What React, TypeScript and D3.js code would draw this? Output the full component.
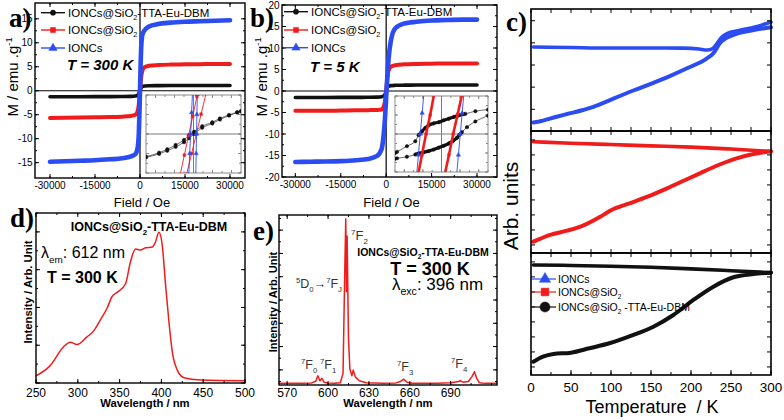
import React from "react";
import * as d3 from "d3";

const BLUE = "#2b4cf2";
const RED = "#f01c1c";
const BLACK = "#111111";
const SANS = "'Liberation Sans', Arial, sans-serif";
const SERIF = "'Liberation Serif', 'Times New Roman', serif";

// a), b): magnetization loops, field in Oe, M in emu/g
const fieldH = [-30000, -25000, -20000, -15000, -10000, -6000, -3000, -1500, -800, -400, -150, 0, 150, 400, 800, 1500, 3000, 6000, 10000, 15000, 20000, 25000, 30000];
const m300Bare = [-14.8, -14.7, -14.6, -14.5, -14.3, -14.1, -13.7, -13.2, -12.0, -9.0, -4.0, 0, 4.0, 9.0, 11.7, 12.6, 13.4, 13.9, 14.2, 14.4, 14.5, 14.6, 14.7];
const m300Silica = [-5.7, -5.65, -5.6, -5.55, -5.5, -5.4, -5.25, -5.0, -4.3, -2.8, -1.1, 0, 1.1, 2.8, 4.2, 4.9, 5.2, 5.35, 5.45, 5.5, 5.55, 5.6, 5.6];
const m300Hybrid = [-1.25, -1.25, -1.24, -1.23, -1.22, -1.2, -1.17, -1.1, -0.95, -0.6, -0.25, 0, 0.25, 0.6, 0.9, 1.0, 1.05, 1.07, 1.08, 1.08, 1.08, 1.08, 1.08];
const m5Bare = [-16.5, -16.45, -16.4, -16.3, -16.1, -15.8, -15.1, -13.5, -10.0, -6.5, -3.5, -1.5, 0.5, 3.5, 7.5, 11.5, 14.6, 15.7, 16.1, 16.4, 16.5, 16.6, 16.6];
const m5Silica = [-4.6, -4.6, -4.6, -4.55, -4.5, -4.45, -4.4, -4.3, -3.6, -2.4, -1.0, 0, 1.3, 3.0, 4.8, 5.6, 6.0, 6.2, 6.3, 6.35, 6.4, 6.4, 6.4];
const m5Hybrid = [-1.5, -1.5, -1.5, -1.49, -1.48, -1.46, -1.42, -1.35, -1.15, -0.8, -0.35, 0, 0.35, 0.8, 1.1, 1.25, 1.32, 1.36, 1.38, 1.39, 1.4, 1.4, 1.4];
const fieldTicks = [-30000, -15000, 0, 15000, 30000];

// insets: low-field detail [H, M]
type Pt = [number, number];
const insetAHybrid: Pt[][] = [
  [[-250, -0.58], [-181, -0.48], [-138, -0.39], [-94, -0.28], [-50, -0.15], [-24, -0.03], [3, 0.06], [46, 0.2], [99, 0.3], [139, 0.4], [187, 0.49], [230, 0.56], [250, 0.59]],
  [[-250, -0.6], [-181, -0.51], [-138, -0.43], [-94, -0.33], [-50, -0.21], [-24, -0.11], [3, 0.0], [46, 0.16], [99, 0.27], [139, 0.37], [187, 0.47], [230, 0.55], [250, 0.58]],
];
const insetASilica: Pt[][] = [
  [[-70, -1.04], [-48, -0.54], [-26, -0.04], [-4, 0.46], [18, 0.96], [24, 1.09]],
  [[-36, -1.03], [-10, -0.5], [15, 0.0], [40, 0.51], [66, 1.04]],
];
const insetABare: Pt[][] = [
  [[-25, -1.05], [-20, -0.5], [-15, 0], [-10, 0.55], [-5, 1.08]],
  [[12, -1.05], [14, -0.5], [16, 0], [18, 0.5], [20, 1.02]],
];
const insetBHybrid: Pt[][] = [
  [[-250, -0.5], [-239, -0.47], [-186, -0.32], [-141, -0.19], [-123, -0.03], [-105, 0.07], [-87, 0.16], [-69, 0.23], [-42, 0.28], [-15, 0.31], [12, 0.36], [39, 0.4], [66, 0.45], [93, 0.49], [128, 0.53], [182, 0.6], [250, 0.64]],
  [[-250, -0.65], [-239, -0.64], [-186, -0.6], [-141, -0.54], [-123, -0.51], [-96, -0.48], [-69, -0.45], [-42, -0.41], [-15, -0.36], [12, -0.31], [39, -0.25], [62, -0.18], [83, -0.1], [97, -0.02], [110, 0.05], [137, 0.18], [182, 0.33], [250, 0.48]],
];
const insetBSilica: Pt[][] = [
  [[-127, -1.1], [-105, -0.55], [-83, 0.0], [-61, 0.5], [-38, 1.1]],
  [[16, -1.1], [40, -0.55], [63, 0.0], [87, 0.52], [113, 1.1]],
];
const insetBBare: Pt[][] = [
  [[-134, -1.1], [-124, -0.55], [-114, 0.0], [-104, 0.55], [-94, 1.1]],
  [[81, -1.1], [91, -0.55], [101, 0.0], [111, 0.55], [121, 1.1]],
];

// c): FC / ZFC curves, arbitrary units (0-100 per strip)
const tFcBare = [3, 50, 100, 150, 190, 210, 220, 227, 232, 238, 245, 260, 280, 300];
const fcBare = [68.9, 68.4, 68.0, 68.0, 67.9, 67.2, 66.4, 67.5, 71.3, 76.6, 79.8, 82.3, 85.3, 89.3];
const tZfcBare = [3, 9, 32, 45, 65, 78, 86, 103, 128, 149, 170, 195, 220, 228, 236, 253, 274, 300];
const zfcBare = [7.0, 7.6, 11.7, 13.9, 17.2, 19.8, 21.8, 26.5, 33.2, 38.5, 44, 51.4, 59.6, 63.7, 71.9, 78.7, 82.2, 85];
const tFcSilica = [3, 50, 100, 150, 200, 250, 300];
const fcSilica = [91.2, 90.0, 88.9, 87.8, 86.8, 85.2, 83.3];
const tZfcSilica = [3, 24, 45, 65, 86, 100, 120, 145, 170, 190, 211, 232, 253, 278, 300];
const zfcSilica = [9.3, 14.8, 18.3, 22.5, 29.5, 35, 40, 46, 53, 59, 65.3, 71.5, 76.8, 81.1, 83.3];
const tFcHybrid = [3, 50, 100, 150, 200, 250, 300];
const fcHybrid = [90.2, 89.8, 89.2, 88.3, 87.0, 85.5, 83.9];
const tZfcHybrid = [3, 15, 28, 50, 73, 98, 128, 153, 178, 203, 228, 253, 278, 300];
const zfcHybrid = [10.9, 15, 17.2, 18.3, 21.9, 26, 32.8, 39.6, 49.2, 61.5, 72.4, 80.1, 82.8, 83.9];
const tempTicks = [0, 50, 100, 150, 200, 250, 300];

// d): excitation spectrum, e): emission spectrum
const wlD = [250, 267, 283, 291, 299, 311, 319, 327, 335, 341, 347, 357, 363, 369, 375, 381, 389, 393, 397, 401, 405, 409, 413, 419, 427, 447, 500];
const exD = [0.19, 0.46, 0.96, 1.08, 1.02, 1.22, 1.38, 1.67, 1.98, 2.29, 2.4, 2.62, 3.21, 3.55, 3.52, 3.58, 3.6, 3.74, 3.99, 3.65, 2.59, 1.62, 0.83, 0.34, 0.14, 0.08, 0.06];
const wlE = [564, 580, 588, 591, 592.5, 594, 595.5, 597, 600, 605, 609, 611, 612.3, 613, 613.5, 614, 615, 616, 617.5, 618.5, 620, 623, 628, 640, 650, 653, 655.5, 658, 662, 680, 690, 696, 697, 699, 703, 705.5, 707.5, 709, 711, 715, 724];
const emE = [0.07, 0.08, 0.09, 0.16, 0.4, 0.18, 0.29, 0.12, 0.09, 0.08, 0.1, 0.5, 5.0, 7.13, 4.0, 6.4, 2.0, 0.7, 0.4, 0.64, 0.35, 0.18, 0.1, 0.08, 0.09, 0.15, 0.25, 0.12, 0.08, 0.08, 0.1, 0.15, 0.19, 0.12, 0.15, 0.35, 0.57, 0.3, 0.1, 0.07, 0.07];
const wlTicksD = [250, 300, 350, 400, 450, 500];
const wlTicksE = [570, 600, 630, 660, 690];

type Seg = { t: string; k?: "sub" | "sup" };
const hybridName: Seg[] = [{ t: "IONCs@SiO" }, { t: "2", k: "sub" }, { t: "-TTA-Eu-DBM" }];
const silicaName: Seg[] = [{ t: "IONCs@SiO" }, { t: "2", k: "sub" }];
const bareName: Seg[] = [{ t: "IONCs" }];

function Rich({ x, y, segs, size, weight = "normal", fill = "#000", anchor = "start", italic = false, transform }: any) {
  let off = 0;
  const kids = (segs as Seg[]).map((s, i) => {
    const target = s.k === "sub" ? size * 0.3 : s.k === "sup" ? -size * 0.42 : 0;
    const dy = target - off;
    off = target;
    return (
      <tspan key={i} dy={dy} fontSize={s.k ? size * 0.62 : size}>
        {s.t}
      </tspan>
    );
  });
  return (
    <text x={x} y={y} fontSize={size} fontWeight={weight} fill={fill} textAnchor={anchor}
      fontStyle={italic ? "italic" : "normal"} transform={transform} style={{ whiteSpace: "pre" }}>
      {kids}
    </text>
  );
}

function Ticks({ scale, values, side, at, len, stroke = "#000", width = 1 }: any) {
  return (
    <g stroke={stroke} strokeWidth={width}>
      {(values as number[]).map((v, i) => {
        const p = scale(v);
        if (side === "bottom") return <line key={i} x1={p} x2={p} y1={at} y2={at - len} />;
        if (side === "top") return <line key={i} x1={p} x2={p} y1={at} y2={at + len} />;
        if (side === "left") return <line key={i} y1={p} y2={p} x1={at} x2={at + len} />;
        return <line key={i} y1={p} y2={p} x1={at} x2={at - len} />;
      })}
    </g>
  );
}

function BoxTicks({ x, y, xMaj, xMin, yMaj, yMin, maj = 4, min = 2, stroke = "#000" }: any) {
  const [x0, x1] = x.range();
  const [y0, y1] = y.range();
  return (
    <g>
      <Ticks scale={x} values={xMaj} side="bottom" at={y0} len={maj} stroke={stroke} />
      <Ticks scale={x} values={xMin} side="bottom" at={y0} len={min} stroke={stroke} />
      <Ticks scale={x} values={xMaj} side="top" at={y1} len={maj} stroke={stroke} />
      <Ticks scale={x} values={xMin} side="top" at={y1} len={min} stroke={stroke} />
      <Ticks scale={y} values={yMaj} side="left" at={x0} len={maj} stroke={stroke} />
      <Ticks scale={y} values={yMin} side="left" at={x0} len={min} stroke={stroke} />
      <Ticks scale={y} values={yMaj} side="right" at={x1} len={maj} stroke={stroke} />
      <Ticks scale={y} values={yMin} side="right" at={x1} len={min} stroke={stroke} />
    </g>
  );
}

function Curve({ xs, ys, x, y, color, width, curve = d3.curveLinear }: any) {
  const gen = d3
    .line<number>()
    .x((_, i) => x(xs[i]))
    .y((d) => y(d))
    .curve(curve);
  return <path d={gen(ys) || ""} fill="none" stroke={color} strokeWidth={width} strokeLinejoin="round" strokeLinecap="round" />;
}

function PtCurve({ pts, x, y, color, width }: any) {
  const gen = d3
    .line<Pt>()
    .x((d) => x(d[0]))
    .y((d) => y(d[1]))
    .curve(d3.curveMonotoneX);
  return <path d={gen(pts) || ""} fill="none" stroke={color} strokeWidth={width} strokeLinejoin="round" />;
}

function Marker({ kind, cx, cy, size, color }: any) {
  const type = kind === "tri" ? d3.symbolTriangle : kind === "sq" ? d3.symbolSquare : d3.symbolCircle;
  const d = d3.symbol().type(type).size(size)() || "";
  return <path d={d} transform={`translate(${cx},${cy})`} fill={color} stroke={color} strokeWidth={0.5} />;
}

function Inset({ id, box, hybrid, silica, bare, thickRange, silicaWidth }: any) {
  const [bx0, bx1, by0, by1] = box;
  const x = d3.scaleLinear().domain([-250, 250]).range([bx0, bx1]);
  const y = d3.scaleLinear().domain([-1, 1]).range([by1, by0]);
  return (
    <g>
      <clipPath id={id}>
        <rect x={bx0} y={by0} width={bx1 - bx0} height={by1 - by0} />
      </clipPath>
      <rect x={bx0} y={by0} width={bx1 - bx0} height={by1 - by0} fill="#fff" stroke="#8a8a8a" strokeWidth={1} />
      <BoxTicks x={x} y={y} xMaj={d3.range(-200, 201, 100)} xMin={d3.range(-250, 251, 50)}
        yMaj={d3.range(-1, 1.01, 0.5)} yMin={d3.range(-1, 1.01, 0.25)} maj={3} min={2} stroke="#8a8a8a" />
      <g clipPath={`url(#${id})`}>
        <line x1={bx0} x2={bx1} y1={y(0)} y2={y(0)} stroke="#7a7a7a" strokeWidth={1} />
        <line x1={x(0)} x2={x(0)} y1={by0} y2={by1} stroke="#7a7a7a" strokeWidth={1} />
        {(hybrid as Pt[][]).map((b, i) => (
          <g key={"h" + i}>
            <PtCurve pts={b} x={x} y={y} color="#444" width={0.8} />
            {thickRange && (
              <PtCurve pts={b.filter((p) => p[0] >= thickRange[i][0] && p[0] <= thickRange[i][1])} x={x} y={y} color={BLACK} width={3.2} />
            )}
            {b.map((p, j) => (
              <Marker key={j} kind="circ" cx={x(p[0])} cy={y(p[1])} size={9} color={BLACK} />
            ))}
          </g>
        ))}
        {(silica as Pt[][]).map((b, i) => (
          <g key={"s" + i}>
            <PtCurve pts={b} x={x} y={y} color={RED} width={silicaWidth} />
            {b.map((p, j) => (
              <Marker key={j} kind="sq" cx={x(p[0])} cy={y(p[1])} size={7} color={RED} />
            ))}
          </g>
        ))}
        {(bare as Pt[][]).map((b, i) => (
          <g key={"b" + i}>
            <PtCurve pts={b} x={x} y={y} color={BLUE} width={0.9} />
            {b.map((p, j) => (
              <Marker key={j} kind="tri" cx={x(p[0])} cy={y(p[1])} size={8} color={BLUE} />
            ))}
          </g>
        ))}
      </g>
    </g>
  );
}

function MagPanel(props: any) {
  const { frame, xDom, yDom, yMaj, bare, silica, hybrid, legX, legYs, temp, tempX, tempY, ylabX, letterX, inset } = props;
  const [l, r, t, b] = frame;
  const x = d3.scaleLinear().domain(xDom).range([l, r]);
  const y = d3.scaleLinear().domain(yDom).range([b, t]);
  const legend = [
    { name: hybridName, color: BLACK, kind: "circ", size: 22 },
    { name: silicaName, color: RED, kind: "sq", size: 26 },
    { name: bareName, color: BLUE, kind: "tri", size: 30 },
  ];
  return (
    <g>
      <line x1={x(0)} x2={x(0)} y1={t} y2={b} stroke="#000" strokeWidth={1.2} />
      <line x1={l} x2={r} y1={y(0)} y2={y(0)} stroke="#000" strokeWidth={1.2} />
      <Curve xs={fieldH} ys={hybrid} x={x} y={y} color={BLACK} width={3.6} curve={d3.curveMonotoneX} />
      <Curve xs={fieldH} ys={silica} x={x} y={y} color={RED} width={4} curve={d3.curveMonotoneX} />
      <Curve xs={fieldH} ys={bare} x={x} y={y} color={BLUE} width={4.6} curve={d3.curveMonotoneX} />
      <Inset {...inset} />
      <rect x={l} y={t} width={r - l} height={b - t} fill="none" stroke="#000" strokeWidth={1.4} />
      <BoxTicks x={x} y={y} xMaj={fieldTicks} xMin={d3.range(-30000, 30001, 7500)}
        yMaj={yMaj} yMin={d3.range(yMaj[0], yMaj[yMaj.length - 1] + 0.1, 2.5)} />
      <g fontSize={10} fill="#000">
        {fieldTicks.map((v) => (
          <text key={v} x={x(v)} y={b + 10.5} textAnchor="middle">{v}</text>
        ))}
        {yMaj.map((v: number) => (
          <text key={v} x={l - 2.5} y={y(v) + 3.5} textAnchor="end">{v}</text>
        ))}
      </g>
      <text x={(l + r) / 2 + 2} y={207} fontSize={13} textAnchor="middle">Field / Oe</text>
      <Rich x={0} y={0} size={15} anchor="middle" transform={`translate(${ylabX},77) rotate(-90)`}
        segs={[{ t: "M / emu .g" }, { t: "-1", k: "sup" }]} />
      {legend.map((s, i) => (
        <g key={i}>
          <line x1={legX} x2={legX + 24} y1={legYs[i]} y2={legYs[i]} stroke={s.color} strokeWidth={1.4} />
          <Marker kind={s.kind} cx={legX + 12} cy={legYs[i]} size={s.size} color={s.color} />
          <Rich x={legX + 27} y={legYs[i] + 4} size={11.5} segs={s.name} />
        </g>
      ))}
      <text x={tempX} y={tempY} fontSize={15} fontWeight="bold" fontStyle="italic" style={{ whiteSpace: "pre" }}>{temp}</text>
      <text x={letterX} y={27} fontFamily={SERIF} fontSize={27} fontWeight="bold">{props.letter}</text>
    </g>
  );
}

function PanelC() {
  const x = d3.scaleLinear().domain([0, 300]).range([531, 771]);
  const strips = [
    { top: 9, bot: 131, color: BLUE, fc: [tFcBare, fcBare], zfc: [tZfcBare, zfcBare], yt: d3.range(17.8, 100, 18.15) },
    { top: 131, bot: 253, color: RED, fc: [tFcSilica, fcSilica], zfc: [tZfcSilica, zfcSilica], yt: d3.range(6.6, 100, 12.3) },
    { top: 253, bot: 375, color: BLACK, fc: [tFcHybrid, fcHybrid], zfc: [tZfcHybrid, zfcHybrid], yt: d3.range(6.6, 100, 12.3) },
  ];
  const legend = [
    { name: bareName, color: BLUE, kind: "tri", y: 279 },
    { name: silicaName, color: RED, kind: "sq", y: 292 },
    { name: [{ t: "IONCs@SiO" }, { t: "2", k: "sub" }, { t: " -TTA-Eu-DBM" }], color: BLACK, kind: "circ", y: 307 },
  ];
  return (
    <g>
      {strips.map((s, i) => {
        const y = d3.scaleLinear().domain([0, 100]).range([s.bot, s.top]);
        return (
          <g key={i}>
            <Curve xs={s.fc[0]} ys={s.fc[1]} x={x} y={y} color={s.color} width={3.6} curve={d3.curveMonotoneX} />
            <Curve xs={s.zfc[0]} ys={s.zfc[1]} x={x} y={y} color={s.color} width={4} curve={d3.curveMonotoneX} />
            <Ticks scale={x} values={d3.range(0, 301, 25)} side="top" at={s.top} len={4} />
            <Ticks scale={x} values={d3.range(0, 301, 25)} side="bottom" at={s.bot} len={i === 2 ? 3 : 4} />
            <Ticks scale={y} values={s.yt} side="left" at={531} len={4} />
            <Ticks scale={y} values={s.yt} side="right" at={771} len={4} />
            <rect x={531} y={s.top} width={240} height={s.bot - s.top} fill="none" stroke="#000" strokeWidth={1.6} />
          </g>
        );
      })}
      <Ticks scale={x} values={tempTicks} side="bottom" at={375} len={5} />
      {legend.map((s, i) => (
        <g key={i}>
          <line x1={532} x2={556} y1={s.y} y2={s.y} stroke={s.color} strokeWidth={1.2} />
          <Marker kind={s.kind} cx={545} cy={s.y} size={s.kind === "tri" ? 55 : s.kind === "sq" ? 60 : 80} color={s.color} />
          <Rich x={558} y={s.y + 4} size={10.5} segs={s.name} />
        </g>
      ))}
      <g fontSize={13.5}>
        {tempTicks.map((v) => (
          <text key={v} x={x(v)} y={392} textAnchor="middle">{v}</text>
        ))}
      </g>
      <text x={652} y={413} fontSize={18} textAnchor="middle" style={{ whiteSpace: "pre" }}>Temperature  / K</text>
      <text transform="translate(518,206) rotate(-90)" fontSize={21} textAnchor="middle">Arb. units</text>
      <text x={506} y={31} fontFamily={SERIF} fontSize={27} fontWeight="bold">c)</text>
    </g>
  );
}

function PanelD() {
  const x = d3.scaleLinear().domain([250, 500]).range([36, 245]);
  const y = d3.scaleLinear().domain([0, 4.5]).range([383, 213]);
  return (
    <g>
      <Curve xs={wlD} ys={exD} x={x} y={y} color={RED} width={1.5} curve={d3.curveMonotoneX} />
      <rect x={36} y={213} width={209} height={170} fill="none" stroke="#000" strokeWidth={1.4} />
      <BoxTicks x={x} y={y} xMaj={wlTicksD} xMin={d3.range(250, 501, 25)} yMaj={d3.range(0, 4.6, 1)} yMin={d3.range(0, 4.6, 0.5)} />
      <g fontSize={12}>
        {wlTicksD.map((v) => (
          <text key={v} x={x(v)} y={397} textAnchor="middle">{v}</text>
        ))}
      </g>
      <text x={145} y={407} fontSize={11.3} fontWeight="bold" textAnchor="middle">Wavelength / nm</text>
      <text transform="translate(32,292) rotate(-90)" fontSize={11.3} fontWeight="bold" textAnchor="middle">Intensity / Arb. Unit</text>
      <Rich x={149} y={231} size={12.5} weight="bold" anchor="middle" segs={hybridName} />
      <Rich x={41} y={258} size={16} segs={[{ t: "λ" }, { t: "em", k: "sub" }, { t: ": 612 nm" }]} />
      <text x={47} y={283} fontSize={16} fontWeight="bold">T = 300 K</text>
      <text x={10} y={227} fontFamily={SERIF} fontSize={27} fontWeight="bold">d)</text>
    </g>
  );
}

function PanelE() {
  const x = d3.scaleLinear().domain([564, 724]).range([279, 497]);
  const y = d3.scaleLinear().domain([0, 7.3]).range([385, 215]);
  const term = (sup: string, sub: string): Seg[] => [{ t: sup, k: "sup" }, { t: "F" }, { t: sub, k: "sub" }];
  return (
    <g>
      <Curve xs={wlE} ys={emE} x={x} y={y} color={RED} width={1.5} />
      <rect x={279} y={215} width={218} height={170} fill="none" stroke="#000" strokeWidth={1.4} />
      <BoxTicks x={x} y={y} xMaj={wlTicksE} xMin={d3.range(570, 721, 15)} yMaj={d3.range(0.65, 7.3, 1)} yMin={d3.range(0.15, 7.3, 0.5)} />
      <g fontSize={12}>
        {wlTicksE.map((v) => (
          <text key={v} x={x(v)} y={397} textAnchor="middle">{v}</text>
        ))}
      </g>
      <text x={388} y={407} fontSize={11.3} fontWeight="bold" textAnchor="middle">Wavelength / nm</text>
      <text transform="translate(277,302) rotate(-90)" fontSize={11} fontWeight="bold" textAnchor="middle">Intensity / Arb. Unit</text>
      <g fill="#333">
        <Rich x={351} y={240} size={13} fill="#333" segs={term("7", "2")} />
        <Rich x={296} y={288} size={12.5} fill="#333" segs={[{ t: "5", k: "sup" }, { t: "D" }, { t: "0", k: "sub" }, { t: "→" }, { t: "7", k: "sup" }, { t: "F" }, { t: "J", k: "sub" }]} />
        <Rich x={301} y={369} size={12.5} fill="#333" segs={term("7", "0")} />
        <Rich x={320} y={369} size={12.5} fill="#333" segs={term("7", "1")} />
        <Rich x={397} y={371} size={12.5} fill="#333" segs={term("7", "3")} />
        <Rich x={451} y={368} size={12.5} fill="#333" segs={term("7", "4")} />
      </g>
      <Rich x={423} y={256} size={10.5} weight="bold" anchor="middle" segs={hybridName} />
      <text x={430} y={275} fontSize={18} fontWeight="bold" textAnchor="middle">T = 300 K</text>
      <Rich x={392} y={290} size={17} segs={[{ t: "λ" }, { t: "exc", k: "sub" }, { t: ": 396 nm" }]} />
      <text x={253} y={240} fontFamily={SERIF} fontSize={27} fontWeight="bold">e)</text>
    </g>
  );
}

export default function App() {
  return (
    <svg width={784} height={420} fontFamily={SANS}
      style={{ position: "absolute", left: 0, top: 0, background: "#fff" }}>
      <rect width={784} height={420} fill="#fff" />
      <MagPanel letter="a)" letterX={9} frame={[35, 245, 3, 178]} xDom={[-35000, 35000]} yDom={[-18.2, 18.3]}
        yMaj={[-15, -10, -5, 0, 5, 10, 15]} bare={m300Bare} silica={m300Silica} hybrid={m300Hybrid}
        legX={41} legYs={[12.7, 30, 48]} temp="T = 300 K" tempX={67} tempY={70} ylabX={18}
        inset={{ id: "insA", box: [146, 241, 95, 173], hybrid: insetAHybrid, silica: insetASilica, bare: insetABare, silicaWidth: 0.9 }} />
      <MagPanel letter="b)" letterX={250} frame={[282, 497, 5, 177]} xDom={[-34400, 36600]} yDom={[-20, 20]}
        yMaj={[-20, -15, -10, -5, 0, 5, 10, 15, 20]} bare={m5Bare} silica={m5Silica} hybrid={m5Hybrid}
        legX={284} legYs={[11.7, 30, 47.7]} temp="T = 5 K" tempX={310} tempY={72} ylabX={267}
        inset={{ id: "insB", box: [395, 488, 96, 172], hybrid: insetBHybrid, silica: insetBSilica, bare: insetBBare,
          silicaWidth: 2.6, thickRange: [[-125, 130], [-145, 112]] }} />
      <PanelC />
      <PanelD />
      <PanelE />
    </svg>
  );
}
